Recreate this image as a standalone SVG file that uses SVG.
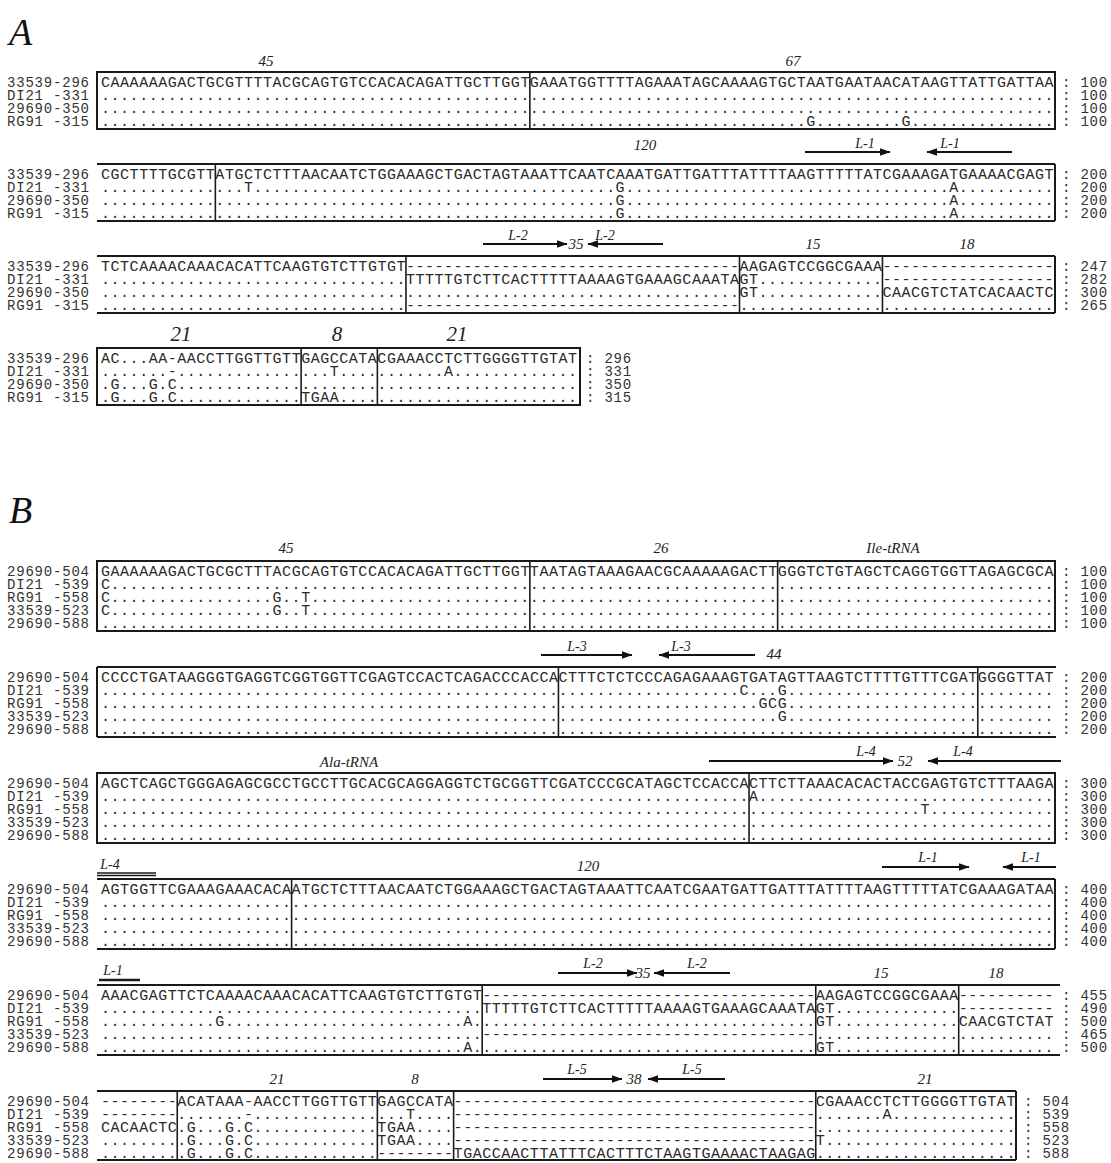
<svg xmlns="http://www.w3.org/2000/svg" width="1111" height="1163" viewBox="0 0 1111 1163">
<style>
.seq{font-family:"Liberation Mono",monospace;font-size:15px;letter-spacing:0.53px;fill:#2a2a2a}
.lab{font-family:"Liberation Mono",monospace;font-size:14px;letter-spacing:0.8px;fill:#333}
.num{font-family:"Liberation Serif",serif;font-style:italic;font-size:15px;fill:#222;text-anchor:middle}
.big{font-family:"Liberation Serif",serif;font-style:italic;font-size:21px;fill:#222;text-anchor:middle}
.ll{font-family:"Liberation Serif",serif;font-style:italic;font-size:14px;fill:#222;text-anchor:middle}
.sec{font-family:"Liberation Serif",serif;font-style:italic;font-size:38px;fill:#111}
.box{fill:none;stroke:#1a1a1a;stroke-width:2}
.ln{stroke:#1a1a1a;stroke-width:2;fill:none}
.dv{stroke:#1a1a1a;stroke-width:1.6}
.arr{stroke:#111;stroke-width:2;fill:none;marker-end:url(#ah)}
</style>
<defs>
<marker id="ah" viewBox="0 0 10 7" refX="9.5" refY="3.5" markerWidth="5.3" markerHeight="3.7" orient="auto" markerUnits="strokeWidth"><path d="M0,0 L10,3.5 L0,7 z" fill="#111"/></marker>
</defs>

<text class="sec" x="9" y="45">A</text>
<text class="sec" x="9" y="523">B</text>

<g id="blockA1">
<rect class="box" x="97" y="72" width="958" height="57"/>
<line class="dv" x1="529.85" y1="72" x2="529.85" y2="129"/>
<text class="num" x="266" y="66">45</text>
<text class="num" x="793" y="66">67</text>
<text class="lab" x="7" y="86.5">33539-296</text>
<text class="lab" x="7" y="99.5">DI21 -331</text>
<text class="lab" x="7" y="112.5">29690-350</text>
<text class="lab" x="7" y="125.5">RG91 -315</text>
<text class="seq" y="86.5"><tspan x="101">CAAAAAAGACTGCGTTTTACGCAGTGTCCACACAGATTGCTTGGT</tspan><tspan x="529.85">GAAATGGTTTTAGAAATAGCAAAAGTGCTAATGAATAACATAAGTTATTGATTAA</tspan></text>
<text class="seq" y="99.5"><tspan x="101">.............................................</tspan><tspan x="529.85">.......................................................</tspan></text>
<text class="seq" y="112.5"><tspan x="101">.............................................</tspan><tspan x="529.85">.......................................................</tspan></text>
<text class="seq" y="125.5"><tspan x="101">.............................................</tspan><tspan x="529.85">.............................</tspan><tspan x="806.22">G</tspan><tspan x="815.75">.........</tspan><tspan x="901.52">G</tspan><tspan x="911.05">...............</tspan></text>
<text class="lab" x="1062" y="86.5">: 100</text>
<text class="lab" x="1062" y="99.5">: 100</text>
<text class="lab" x="1062" y="112.5">: 100</text>
<text class="lab" x="1062" y="125.5">: 100</text>
</g>

<g id="blockA2">
<line class="ln" x1="97" y1="164" x2="1055" y2="164"/>
<line class="ln" x1="97" y1="221" x2="1055" y2="221"/>
<line class="dv" x1="215.36" y1="164" x2="215.36" y2="221"/>
<line class="ln" x1="1055" y1="164" x2="1055" y2="221"/>
<text class="num" x="645" y="150">120</text>
<text class="lab" x="7" y="178.5">33539-296</text>
<text class="lab" x="7" y="191.5">DI21 -331</text>
<text class="lab" x="7" y="204.5">29690-350</text>
<text class="lab" x="7" y="217.5">RG91 -315</text>
<text class="seq" y="178.5"><tspan x="101">CGCTTTTGCGTT</tspan><tspan x="215.36">ATGCTCTTTAACAATCTGGAAAGCTGACTAGTAAATTCAATCAAATGATTGATTTATTTTAAGTTTTTATCGAAAGATGAAAACGAGT</tspan></text>
<text class="seq" y="191.5"><tspan x="101">............</tspan><tspan x="215.36">...</tspan><tspan x="243.95">T</tspan><tspan x="253.48">......................................</tspan><tspan x="615.62">G</tspan><tspan x="625.15">..................................</tspan><tspan x="949.17">A</tspan><tspan x="958.7">..........</tspan></text>
<text class="seq" y="204.5"><tspan x="101">............</tspan><tspan x="215.36">..........................................</tspan><tspan x="615.62">G</tspan><tspan x="625.15">..................................</tspan><tspan x="949.17">A</tspan><tspan x="958.7">..........</tspan></text>
<text class="seq" y="217.5"><tspan x="101">............</tspan><tspan x="215.36">..........................................</tspan><tspan x="615.62">G</tspan><tspan x="625.15">..................................</tspan><tspan x="949.17">A</tspan><tspan x="958.7">..........</tspan></text>
<text class="lab" x="1062" y="178.5">: 200</text>
<text class="lab" x="1062" y="191.5">: 200</text>
<text class="lab" x="1062" y="204.5">: 200</text>
<text class="lab" x="1062" y="217.5">: 200</text>
</g>

<g id="blockA3">
<line class="ln" x1="97" y1="256" x2="1055" y2="256"/>
<line class="ln" x1="97" y1="313" x2="1055" y2="313"/>
<line class="dv" x1="405.96" y1="256" x2="405.96" y2="313"/>
<line class="dv" x1="739.51" y1="256" x2="739.51" y2="313"/>
<line class="dv" x1="882.46" y1="256" x2="882.46" y2="313"/>
<line class="ln" x1="1055" y1="256" x2="1055" y2="313"/>
<text class="num" x="576" y="249">35</text>
<text class="num" x="813" y="249">15</text>
<text class="num" x="967" y="249">18</text>
<text class="lab" x="7" y="270.5">33539-296</text>
<text class="lab" x="7" y="283.5">DI21 -331</text>
<text class="lab" x="7" y="296.5">29690-350</text>
<text class="lab" x="7" y="309.5">RG91 -315</text>
<text class="seq" y="270.5"><tspan x="101">TCTCAAAACAAACACATTCAAGTGTCTTGTGT</tspan><tspan x="405.96">-----------------------------------</tspan><tspan x="739.51">AAGAGTCCGGCGAAA</tspan><tspan x="882.46">------------------</tspan></text>
<text class="seq" y="283.5"><tspan x="101">................................</tspan><tspan x="405.96">TTTTTGTCTTCACTTTTTAAAAGTGAAAGCAAATA</tspan><tspan x="739.51">GT.............</tspan><tspan x="882.46">------------------</tspan></text>
<text class="seq" y="296.5"><tspan x="101">................................</tspan><tspan x="405.96">...................................</tspan><tspan x="739.51">GT.............</tspan><tspan x="882.46">CAACGTCTATCACAACTC</tspan></text>
<text class="seq" y="309.5"><tspan x="101">................................</tspan><tspan x="405.96">-----------------------------------</tspan><tspan x="739.51">...............</tspan><tspan x="882.46">..................</tspan></text>
<text class="lab" x="1062" y="270.5">: 247</text>
<text class="lab" x="1062" y="283.5">: 282</text>
<text class="lab" x="1062" y="296.5">: 300</text>
<text class="lab" x="1062" y="309.5">: 265</text>
</g>

<g id="blockA4">
<rect class="box" x="97" y="348" width="483" height="57"/>
<line class="dv" x1="301.13" y1="348" x2="301.13" y2="405"/>
<line class="dv" x1="377.37" y1="348" x2="377.37" y2="405"/>
<text class="big" x="181" y="341">21</text>
<text class="big" x="337" y="341">8</text>
<text class="big" x="457" y="341">21</text>
<text class="lab" x="7" y="362.5">33539-296</text>
<text class="lab" x="7" y="375.5">DI21 -331</text>
<text class="lab" x="7" y="388.5">29690-350</text>
<text class="lab" x="7" y="401.5">RG91 -315</text>
<text class="seq" y="362.5"><tspan x="101">AC...AA-AACCTTGGTTGTT</tspan><tspan x="301.13">GAGCCATA</tspan><tspan x="377.37">CGAAACCTCTTGGGGTTGTAT</tspan></text>
<text class="seq" y="375.5"><tspan x="101">.......-.............</tspan><tspan x="301.13">...T....</tspan><tspan x="377.37">.......A.............</tspan></text>
<text class="seq" y="388.5"><tspan x="101">.G...G.C.............</tspan><tspan x="301.13">........</tspan><tspan x="377.37">.....................</tspan></text>
<text class="seq" y="401.5"><tspan x="101">.G...G.C.............</tspan><tspan x="301.13">TGAA....</tspan><tspan x="377.37">.....................</tspan></text>
<text class="lab" x="586" y="362.5">: 296</text>
<text class="lab" x="586" y="375.5">: 331</text>
<text class="lab" x="586" y="388.5">: 350</text>
<text class="lab" x="586" y="401.5">: 315</text>
</g>

<g id="blockB1">
<rect class="box" x="97" y="561" width="958" height="70"/>
<line class="dv" x1="529.85" y1="561" x2="529.85" y2="631"/>
<line class="dv" x1="777.63" y1="561" x2="777.63" y2="631"/>
<text class="num" x="286" y="553">45</text>
<text class="num" x="661" y="553">26</text>
<text class="num" x="893" y="553">Ile-tRNA</text>
<text class="lab" x="7" y="575.5">29690-504</text>
<text class="lab" x="7" y="588.5">DI21 -539</text>
<text class="lab" x="7" y="601.5">RG91 -558</text>
<text class="lab" x="7" y="614.5">33539-523</text>
<text class="lab" x="7" y="627.5">29690-588</text>
<text class="seq" y="575.5"><tspan x="101">GAAAAAAGACTGCGCTTTACGCAGTGTCCACACAGATTGCTTGGT</tspan><tspan x="529.85">TAATAGTAAAGAACGCAAAAAGACTT</tspan><tspan x="777.63">GGGTCTGTAGCTCAGGTGGTTAGAGCGCA</tspan></text>
<text class="seq" y="588.5"><tspan x="101">C</tspan><tspan x="110.53">............................................</tspan><tspan x="529.85">..........................</tspan><tspan x="777.63">.............................</tspan></text>
<text class="seq" y="601.5"><tspan x="101">C</tspan><tspan x="110.53">.................</tspan><tspan x="272.54">G</tspan><tspan x="282.07">..</tspan><tspan x="301.13">T</tspan><tspan x="310.66">.......................</tspan><tspan x="529.85">..........................</tspan><tspan x="777.63">.............................</tspan></text>
<text class="seq" y="614.5"><tspan x="101">C</tspan><tspan x="110.53">.................</tspan><tspan x="272.54">G</tspan><tspan x="282.07">..</tspan><tspan x="301.13">T</tspan><tspan x="310.66">.......................</tspan><tspan x="529.85">..........................</tspan><tspan x="777.63">.............................</tspan></text>
<text class="seq" y="627.5"><tspan x="101">.............................................</tspan><tspan x="529.85">..........................</tspan><tspan x="777.63">.............................</tspan></text>
<text class="lab" x="1062" y="575.5">: 100</text>
<text class="lab" x="1062" y="588.5">: 100</text>
<text class="lab" x="1062" y="601.5">: 100</text>
<text class="lab" x="1062" y="614.5">: 100</text>
<text class="lab" x="1062" y="627.5">: 100</text>
</g>

<g id="blockB2">
<line class="ln" x1="97" y1="667" x2="1056" y2="667"/>
<line class="ln" x1="97" y1="737" x2="1056" y2="737"/>
<line class="ln" x1="97" y1="667" x2="97" y2="737"/>
<line class="dv" x1="558.44" y1="667" x2="558.44" y2="737"/>
<line class="dv" x1="977.76" y1="667" x2="977.76" y2="737"/>
<text class="num" x="774" y="659">44</text>
<text class="lab" x="7" y="681.5">29690-504</text>
<text class="lab" x="7" y="694.5">DI21 -539</text>
<text class="lab" x="7" y="707.5">RG91 -558</text>
<text class="lab" x="7" y="720.5">33539-523</text>
<text class="lab" x="7" y="733.5">29690-588</text>
<text class="seq" y="681.5"><tspan x="101">CCCCTGATAAGGGTGAGGTCGGTGGTTCGAGTCCACTCAGACCCACCA</tspan><tspan x="558.44">CTTTCTCTCCCAGAGAAAGTGATAGTTAAGTCTTTTGTTTCGAT</tspan><tspan x="977.76">GGGGTTAT</tspan></text>
<text class="seq" y="694.5"><tspan x="101">................................................</tspan><tspan x="558.44">...................</tspan><tspan x="739.51">C</tspan><tspan x="749.04">...</tspan><tspan x="777.63">G</tspan><tspan x="787.16">....................</tspan><tspan x="977.76">........</tspan></text>
<text class="seq" y="707.5"><tspan x="101">................................................</tspan><tspan x="558.44">.....................</tspan><tspan x="758.57">GCG</tspan><tspan x="787.16">....................</tspan><tspan x="977.76">........</tspan></text>
<text class="seq" y="720.5"><tspan x="101">................................................</tspan><tspan x="558.44">.......................</tspan><tspan x="777.63">G</tspan><tspan x="787.16">....................</tspan><tspan x="977.76">........</tspan></text>
<text class="seq" y="733.5"><tspan x="101">................................................</tspan><tspan x="558.44">............................................</tspan><tspan x="977.76">........</tspan></text>
<text class="lab" x="1062" y="681.5">: 200</text>
<text class="lab" x="1062" y="694.5">: 200</text>
<text class="lab" x="1062" y="707.5">: 200</text>
<text class="lab" x="1062" y="720.5">: 200</text>
<text class="lab" x="1062" y="733.5">: 200</text>
</g>

<g id="blockB3">
<rect class="box" x="97" y="773" width="958" height="70"/>
<line class="dv" x1="749.04" y1="773" x2="749.04" y2="843"/>
<text class="num" x="349" y="767">Ala-tRNA</text>
<text class="num" x="905" y="766">52</text>
<text class="lab" x="7" y="787.5">29690-504</text>
<text class="lab" x="7" y="800.5">DI21 -539</text>
<text class="lab" x="7" y="813.5">RG91 -558</text>
<text class="lab" x="7" y="826.5">33539-523</text>
<text class="lab" x="7" y="839.5">29690-588</text>
<text class="seq" y="787.5"><tspan x="101">AGCTCAGCTGGGAGAGCGCCTGCCTTGCACGCAGGAGGTCTGCGGTTCGATCCCGCATAGCTCCACCA</tspan><tspan x="749.04">CTTCTTAAACACACTACCGAGTGTCTTTAAGA</tspan></text>
<text class="seq" y="800.5"><tspan x="101">....................................................................</tspan><tspan x="749.04">A</tspan><tspan x="758.57">...............................</tspan></text>
<text class="seq" y="813.5"><tspan x="101">....................................................................</tspan><tspan x="749.04">..................</tspan><tspan x="920.58">T</tspan><tspan x="930.11">.............</tspan></text>
<text class="seq" y="826.5"><tspan x="101">....................................................................</tspan><tspan x="749.04">................................</tspan></text>
<text class="seq" y="839.5"><tspan x="101">....................................................................</tspan><tspan x="749.04">................................</tspan></text>
<text class="lab" x="1062" y="787.5">: 300</text>
<text class="lab" x="1062" y="800.5">: 300</text>
<text class="lab" x="1062" y="813.5">: 300</text>
<text class="lab" x="1062" y="826.5">: 300</text>
<text class="lab" x="1062" y="839.5">: 300</text>
</g>

<g id="blockB4">
<line class="ln" x1="97" y1="879" x2="1055" y2="879"/>
<line class="ln" x1="97" y1="949" x2="1055" y2="949"/>
<line class="dv" x1="291.6" y1="879" x2="291.6" y2="949"/>
<line class="ln" x1="1055" y1="879" x2="1055" y2="949"/>
<text class="num" x="588" y="871">120</text>
<text class="lab" x="7" y="893.5">29690-504</text>
<text class="lab" x="7" y="906.5">DI21 -539</text>
<text class="lab" x="7" y="919.5">RG91 -558</text>
<text class="lab" x="7" y="932.5">33539-523</text>
<text class="lab" x="7" y="945.5">29690-588</text>
<text class="seq" y="893.5"><tspan x="101">AGTGGTTCGAAAGAAACACA</tspan><tspan x="291.6">ATGCTCTTTAACAATCTGGAAAGCTGACTAGTAAATTCAATCGAATGATTGATTTATTTTAAGTTTTTATCGAAAGATAA</tspan></text>
<text class="seq" y="906.5"><tspan x="101">....................</tspan><tspan x="291.6">................................................................................</tspan></text>
<text class="seq" y="919.5"><tspan x="101">....................</tspan><tspan x="291.6">................................................................................</tspan></text>
<text class="seq" y="932.5"><tspan x="101">....................</tspan><tspan x="291.6">................................................................................</tspan></text>
<text class="seq" y="945.5"><tspan x="101">....................</tspan><tspan x="291.6">................................................................................</tspan></text>
<text class="lab" x="1062" y="893.5">: 400</text>
<text class="lab" x="1062" y="906.5">: 400</text>
<text class="lab" x="1062" y="919.5">: 400</text>
<text class="lab" x="1062" y="932.5">: 400</text>
<text class="lab" x="1062" y="945.5">: 400</text>
</g>

<g id="blockB5">
<line class="ln" x1="97" y1="985" x2="1060" y2="985"/>
<line class="ln" x1="97" y1="1055" x2="1060" y2="1055"/>
<line class="dv" x1="482.2" y1="985" x2="482.2" y2="1055"/>
<line class="dv" x1="815.75" y1="985" x2="815.75" y2="1055"/>
<line class="dv" x1="958.7" y1="985" x2="958.7" y2="1055"/>
<text class="num" x="643" y="978">35</text>
<text class="num" x="881" y="978">15</text>
<text class="num" x="996" y="978">18</text>
<text class="lab" x="7" y="999.5">29690-504</text>
<text class="lab" x="7" y="1012.5">DI21 -539</text>
<text class="lab" x="7" y="1025.5">RG91 -558</text>
<text class="lab" x="7" y="1038.5">33539-523</text>
<text class="lab" x="7" y="1051.5">29690-588</text>
<text class="seq" y="999.5"><tspan x="101">AAACGAGTTCTCAAAACAAACACATTCAAGTGTCTTGTGT</tspan><tspan x="482.2">-----------------------------------</tspan><tspan x="815.75">AAGAGTCCGGCGAAA</tspan><tspan x="958.7">----------</tspan></text>
<text class="seq" y="1012.5"><tspan x="101">........................................</tspan><tspan x="482.2">TTTTTGTCTTCACTTTTTAAAAGTGAAAGCAAATA</tspan><tspan x="815.75">GT.............</tspan><tspan x="958.7">----------</tspan></text>
<text class="seq" y="1025.5"><tspan x="101">............</tspan><tspan x="215.36">G</tspan><tspan x="224.89">.........................</tspan><tspan x="463.14">A.</tspan><tspan x="482.2">...................................</tspan><tspan x="815.75">GT.............</tspan><tspan x="958.7">CAACGTCTAT</tspan></text>
<text class="seq" y="1038.5"><tspan x="101">........................................</tspan><tspan x="482.2">-----------------------------------</tspan><tspan x="815.75">...............</tspan><tspan x="958.7">..........</tspan></text>
<text class="seq" y="1051.5"><tspan x="101">......................................</tspan><tspan x="463.14">A.</tspan><tspan x="482.2">...................................</tspan><tspan x="815.75">GT.............</tspan><tspan x="958.7">..........</tspan></text>
<text class="lab" x="1062" y="999.5">: 455</text>
<text class="lab" x="1062" y="1012.5">: 490</text>
<text class="lab" x="1062" y="1025.5">: 500</text>
<text class="lab" x="1062" y="1038.5">: 465</text>
<text class="lab" x="1062" y="1051.5">: 500</text>
</g>

<g id="blockB6">
<line class="ln" x1="97" y1="1091" x2="1016" y2="1091"/>
<line class="ln" x1="97" y1="1160" x2="1016" y2="1160"/>
<line class="dv" x1="177.24" y1="1091" x2="177.24" y2="1160"/>
<line class="dv" x1="377.37" y1="1091" x2="377.37" y2="1160"/>
<line class="dv" x1="453.61" y1="1091" x2="453.61" y2="1160"/>
<line class="dv" x1="815.75" y1="1091" x2="815.75" y2="1160"/>
<line class="ln" x1="1016" y1="1091" x2="1016" y2="1160"/>
<text class="num" x="277" y="1084">21</text>
<text class="num" x="415" y="1084">8</text>
<text class="num" x="634" y="1084">38</text>
<text class="num" x="925" y="1084">21</text>
<text class="lab" x="7" y="1105.5">29690-504</text>
<text class="lab" x="7" y="1118.5">DI21 -539</text>
<text class="lab" x="7" y="1131.5">RG91 -558</text>
<text class="lab" x="7" y="1144.5">33539-523</text>
<text class="lab" x="7" y="1157.5">29690-588</text>
<text class="seq" y="1105.5"><tspan x="101">--------</tspan><tspan x="177.24">ACATAAA-AACCTTGGTTGTT</tspan><tspan x="377.37">GAGCCATA</tspan><tspan x="453.61">--------------------------------------</tspan><tspan x="815.75">CGAAACCTCTTGGGGTTGTAT</tspan></text>
<text class="seq" y="1118.5"><tspan x="101">--------</tspan><tspan x="177.24">.......-.............</tspan><tspan x="377.37">...T....</tspan><tspan x="453.61">--------------------------------------</tspan><tspan x="815.75">.......A.............</tspan></text>
<text class="seq" y="1131.5"><tspan x="101">CACAACTC</tspan><tspan x="177.24">.G...G.C.............</tspan><tspan x="377.37">TGAA....</tspan><tspan x="453.61">--------------------------------------</tspan><tspan x="815.75">.....................</tspan></text>
<text class="seq" y="1144.5"><tspan x="101">........</tspan><tspan x="177.24">.G...G.C.............</tspan><tspan x="377.37">TGAA....</tspan><tspan x="453.61">--------------------------------------</tspan><tspan x="815.75">T....................</tspan></text>
<text class="seq" y="1157.5"><tspan x="101">........</tspan><tspan x="177.24">.G...G.C.............</tspan><tspan x="377.37">--------</tspan><tspan x="453.61">TGACCAACTTATTTCACTTTCTAAGTGAAAACTAAGAG</tspan><tspan x="815.75">.....................</tspan></text>
<text class="lab" x="1024" y="1105.5">: 504</text>
<text class="lab" x="1024" y="1118.5">: 539</text>
<text class="lab" x="1024" y="1131.5">: 558</text>
<text class="lab" x="1024" y="1144.5">: 523</text>
<text class="lab" x="1024" y="1157.5">: 588</text>
</g>

<g id="connectors">
<line class="arr" x1="805" y1="152" x2="890" y2="152"/>
<line class="arr" x1="1012" y1="152" x2="927" y2="152"/>
<text class="ll" x="865" y="148">L-1</text>
<text class="ll" x="950" y="148">L-1</text>
<line class="arr" x1="483" y1="244" x2="567" y2="244"/>
<line class="arr" x1="663" y1="244" x2="588" y2="244"/>
<text class="ll" x="518" y="240">L-2</text>
<text class="ll" x="605" y="240">L-2</text>
<line class="arr" x1="541" y1="655" x2="632" y2="655"/>
<line class="arr" x1="755" y1="655" x2="659" y2="655"/>
<text class="ll" x="577" y="651">L-3</text>
<text class="ll" x="681" y="651">L-3</text>
<line class="arr" x1="709" y1="761" x2="893" y2="761"/>
<line class="arr" x1="1061" y1="761" x2="928" y2="761"/>
<text class="ll" x="866" y="756">L-4</text>
<text class="ll" x="963" y="756">L-4</text>
<text class="ll" x="110" y="869">L-4</text>
<line class="ln" x1="97" y1="873" x2="156" y2="873" style="stroke-width:1.5"/>
<line class="ln" x1="97" y1="875.5" x2="156" y2="875.5" style="stroke-width:1.5"/>
<line class="arr" x1="882" y1="867" x2="969" y2="867"/>
<line class="arr" x1="1056" y1="867" x2="1003" y2="867"/>
<text class="ll" x="928" y="862">L-1</text>
<text class="ll" x="1031" y="862">L-1</text>
<text class="ll" x="113" y="975">L-1</text>
<line class="ln" x1="99" y1="980" x2="140" y2="980" style="stroke-width:2.5"/>
<line class="arr" x1="558" y1="973" x2="637" y2="973"/>
<line class="arr" x1="730" y1="973" x2="654" y2="973"/>
<text class="ll" x="593" y="968">L-2</text>
<text class="ll" x="697" y="968">L-2</text>
<line class="arr" x1="543" y1="1079" x2="622" y2="1079"/>
<line class="arr" x1="725" y1="1079" x2="648" y2="1079"/>
<text class="ll" x="577" y="1074">L-5</text>
<text class="ll" x="692" y="1074">L-5</text>
</g>
</svg>
